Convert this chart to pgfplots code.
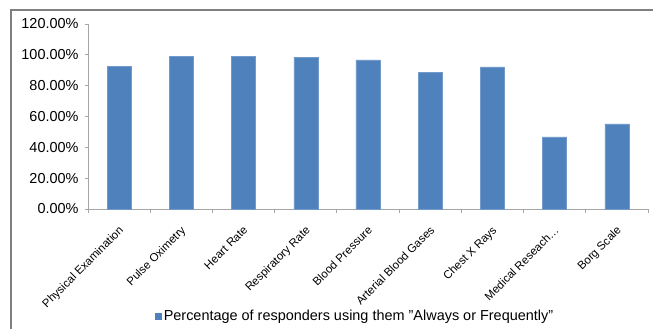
\documentclass[border=0pt]{standalone}
\usepackage{fontspec}
\setmainfont{Liberation Sans}
\usepackage{pgfplots}
\pgfplotsset{compat=1.18}
\definecolor{barblue}{HTML}{4F81BD}
\definecolor{framegray}{HTML}{7F7F7F}
\definecolor{axgray}{HTML}{A6A6A6}
\begin{document}
\begin{tikzpicture}
\path[use as bounding box] (0,0) rectangle (653bp,-329bp);
\draw[framegray, line width=1.6bp] (11bp,-330bp) -- (11bp,-10bp) -- (654bp,-10bp);
\begin{axis}[
  at={(88bp,-209bp)}, anchor=south west,
  scale only axis, width=560bp, height=185bp,
  xmin=-0.5, xmax=8.5, ymin=0, ymax=120,
  axis x line*=bottom, axis y line*=left,
  axis line style={draw=axgray, line width=0.8bp, -},
  ybar, bar width=24bp,
  xtick={0,...,8},
  xticklabels={Physical Examination, Pulse Oximetry, Heart Rate, Respiratory Rate, Blood Pressure, Arterial Blood Gases, Chest X Rays, Medical Reseach\ldots, Borg Scale},
  major x tick style={draw=none},
  minor xtick={-0.5,0.5,...,8.5},
  minor x tick style={draw=axgray, line width=0.8bp},
  minor tick length=4bp,
  ytick={0,20,...,120},
  y tick style={draw=axgray, line width=0.8bp},
  major tick length=3bp,
  tick align=outside,
  /pgf/number format/assume math mode=true,
  yticklabel={\pgfmathprintnumber[fixed,fixed zerofill,precision=2]{\tick}\%},
  yticklabel style={font=\fontsize{14.5}{16}\selectfont, xshift=-3bp},
  xticklabel style={font=\fontsize{11.5}{13}\selectfont, xshift=-1bp, yshift=-13bp, rotate=45, anchor=north east, inner sep=0pt},
  legend style={at={(axis description cs:0.12,-0.578)}, anchor=west, draw=none, fill=none, inner sep=0pt, font=\fontsize{14.5}{16}\selectfont},
  legend image code/.code={\fill[barblue] (0bp,-3bp) rectangle (6bp,3bp);},
]
\addplot[fill=barblue, draw=barblue!80!white] coordinates {
 (0,92.7) (1,98.9) (2,98.9) (3,98.5) (4,96.8) (5,88.8) (6,92.2) (7,46.8) (8,55.2)};
\addlegendentry{Percentage of responders using them "Always or Frequently"}
\end{axis}
\end{tikzpicture}
\end{document}
